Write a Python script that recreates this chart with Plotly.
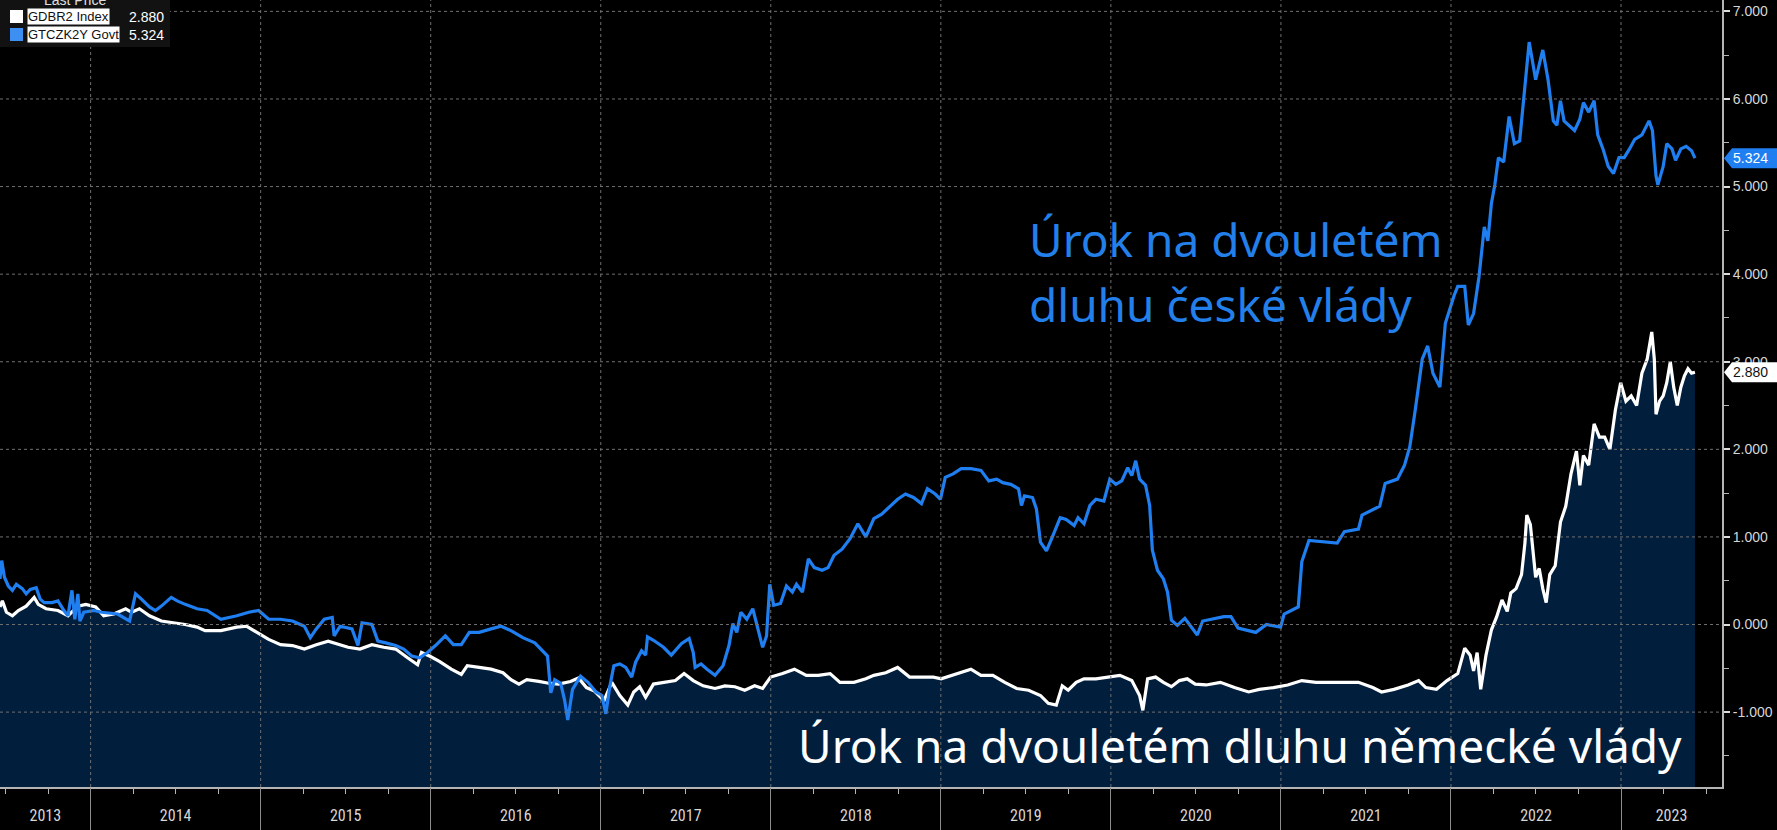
import plotly.graph_objects as go

# ---------------- data (decimal year, yield %) ----------------
years = [2013, 2014, 2015, 2016, 2017, 2018, 2019, 2020, 2021, 2022, 2023]
year_labels = [str(y) for y in years]
x_start, x_end = 2013.467, 2023.594
y_ticks = [-1, 0, 1, 2, 3, 4, 5, 6, 7]
y_min, y_max = -1.855, 7.13

series_names = ["GDBR2 Index", "GTCZK2Y Govt"]

cz_points = [
    (2013.467, 0.52), (2013.477, 0.73), (2013.493, 0.54), (2013.516, 0.44), (2013.540, 0.39),
    (2013.563, 0.46), (2013.598, 0.41), (2013.621, 0.35), (2013.645, 0.40), (2013.680, 0.42),
    (2013.703, 0.29), (2013.727, 0.25), (2013.773, 0.25), (2013.808, 0.27), (2013.843, 0.16),
    (2013.867, 0.10), (2013.890, 0.39), (2013.907, 0.06), (2013.925, 0.35), (2013.937, 0.04),
    (2013.960, 0.14), (2014.019, 0.16), (2014.065, 0.14), (2014.159, 0.12), (2014.229, 0.04),
    (2014.264, 0.35), (2014.299, 0.29), (2014.346, 0.20), (2014.381, 0.16), (2014.416, 0.21),
    (2014.474, 0.31), (2014.509, 0.27), (2014.556, 0.23), (2014.626, 0.18), (2014.685, 0.16),
    (2014.766, 0.06), (2014.860, 0.10), (2014.930, 0.14), (2014.988, 0.16), (2015.047, 0.06),
    (2015.117, 0.06), (2015.187, 0.04), (2015.257, -0.02), (2015.292, -0.15), (2015.327, -0.05),
    (2015.374, 0.06), (2015.421, 0.08), (2015.432, -0.13), (2015.467, -0.02), (2015.537, -0.05),
    (2015.572, -0.24), (2015.596, 0.02), (2015.654, 0.00), (2015.689, -0.19), (2015.736, -0.21),
    (2015.794, -0.24), (2015.841, -0.28), (2015.888, -0.36), (2015.935, -0.38), (2015.981, -0.32),
    (2016.028, -0.24), (2016.086, -0.13), (2016.133, -0.23), (2016.180, -0.23), (2016.227, -0.09),
    (2016.285, -0.09), (2016.355, -0.05), (2016.414, -0.02), (2016.472, -0.07), (2016.542, -0.15),
    (2016.612, -0.21), (2016.659, -0.30), (2016.687, -0.36), (2016.706, -0.78), (2016.729, -0.63),
    (2016.764, -0.67), (2016.787, -0.86), (2016.806, -1.09), (2016.834, -0.74), (2016.881, -0.59),
    (2016.925, -0.66), (2016.972, -0.77), (2017.007, -0.81), (2017.030, -1.02), (2017.054, -0.70),
    (2017.077, -0.47), (2017.112, -0.45), (2017.147, -0.49), (2017.182, -0.60), (2017.205, -0.43),
    (2017.240, -0.30), (2017.264, -0.35), (2017.275, -0.14), (2017.310, -0.18), (2017.369, -0.26),
    (2017.415, -0.35), (2017.474, -0.22), (2017.520, -0.16), (2017.544, -0.32), (2017.555, -0.49),
    (2017.590, -0.45), (2017.625, -0.51), (2017.672, -0.58), (2017.719, -0.47), (2017.754, -0.24),
    (2017.777, 0.01), (2017.800, -0.09), (2017.824, 0.14), (2017.859, 0.06), (2017.894, 0.18),
    (2017.929, -0.09), (2017.952, -0.26), (2017.975, -0.13), (2017.994, 0.46), (2018.017, 0.22),
    (2018.057, 0.24), (2018.092, 0.44), (2018.127, 0.37), (2018.151, 0.46), (2018.186, 0.37),
    (2018.221, 0.75), (2018.256, 0.65), (2018.302, 0.62), (2018.337, 0.65), (2018.372, 0.79),
    (2018.419, 0.86), (2018.466, 0.98), (2018.512, 1.15), (2018.559, 1.00), (2018.606, 1.21),
    (2018.652, 1.26), (2018.699, 1.34), (2018.746, 1.43), (2018.792, 1.49), (2018.839, 1.45),
    (2018.886, 1.38), (2018.921, 1.55), (2018.967, 1.49), (2018.998, 1.43), (2019.026, 1.68),
    (2019.072, 1.72), (2019.119, 1.78), (2019.177, 1.78), (2019.236, 1.76), (2019.282, 1.64),
    (2019.329, 1.66), (2019.364, 1.62), (2019.411, 1.60), (2019.457, 1.55), (2019.474, 1.36),
    (2019.492, 1.47), (2019.539, 1.45), (2019.562, 1.32), (2019.586, 0.94), (2019.621, 0.84),
    (2019.656, 1.00), (2019.702, 1.22), (2019.737, 1.20), (2019.784, 1.13), (2019.807, 1.22),
    (2019.842, 1.15), (2019.877, 1.36), (2019.912, 1.43), (2019.959, 1.41), (2019.994, 1.66),
    (2020.029, 1.60), (2020.064, 1.64), (2020.099, 1.79), (2020.123, 1.70), (2020.146, 1.87),
    (2020.169, 1.66), (2020.204, 1.59), (2020.228, 1.36), (2020.244, 0.85), (2020.274, 0.62),
    (2020.309, 0.52), (2020.333, 0.37), (2020.356, 0.05), (2020.391, -0.01), (2020.435, 0.07),
    (2020.508, -0.12), (2020.540, 0.04), (2020.665, 0.09), (2020.706, 0.09), (2020.748, -0.04),
    (2020.852, -0.09), (2020.915, 0.00), (2020.998, -0.03), (2021.019, 0.12), (2021.102, 0.20),
    (2021.123, 0.72), (2021.165, 0.96), (2021.331, 0.93), (2021.373, 1.06), (2021.456, 1.09),
    (2021.477, 1.25), (2021.581, 1.35), (2021.613, 1.61), (2021.685, 1.66), (2021.727, 1.82),
    (2021.758, 2.03), (2021.790, 2.45), (2021.831, 3.03), (2021.863, 3.18), (2021.894, 2.87),
    (2021.935, 2.71), (2021.967, 3.44), (2022.019, 3.76), (2022.040, 3.86), (2022.081, 3.86),
    (2022.102, 3.42), (2022.133, 3.55), (2022.165, 3.97), (2022.196, 4.54), (2022.217, 4.38),
    (2022.238, 4.81), (2022.258, 5.02), (2022.279, 5.33), (2022.310, 5.28), (2022.342, 5.80),
    (2022.373, 5.49), (2022.404, 5.52), (2022.435, 6.12), (2022.460, 6.65), (2022.498, 6.22),
    (2022.519, 6.38), (2022.540, 6.56), (2022.571, 6.22), (2022.602, 5.75), (2022.623, 5.70),
    (2022.644, 5.98), (2022.665, 5.75), (2022.696, 5.70), (2022.727, 5.64), (2022.758, 5.77),
    (2022.779, 5.96), (2022.810, 5.85), (2022.842, 5.98), (2022.863, 5.59), (2022.894, 5.43),
    (2022.925, 5.23), (2022.956, 5.15), (2022.988, 5.33), (2023.019, 5.33), (2023.050, 5.43),
    (2023.081, 5.54), (2023.123, 5.59), (2023.165, 5.75), (2023.185, 5.64), (2023.206, 5.12),
    (2023.217, 5.02), (2023.248, 5.23), (2023.269, 5.49), (2023.300, 5.43), (2023.321, 5.30),
    (2023.352, 5.43), (2023.383, 5.46), (2023.415, 5.41), (2023.435, 5.324),
]

de_points = [
    (2013.467, 0.20), (2013.481, 0.27), (2013.505, 0.14), (2013.540, 0.10), (2013.575, 0.16),
    (2013.621, 0.21), (2013.668, 0.31), (2013.692, 0.23), (2013.738, 0.18), (2013.808, 0.16),
    (2013.867, 0.10), (2013.925, 0.21), (2013.972, 0.23), (2014.030, 0.20), (2014.077, 0.10),
    (2014.136, 0.12), (2014.206, 0.18), (2014.241, 0.14), (2014.287, 0.18), (2014.346, 0.10),
    (2014.416, 0.04), (2014.486, 0.02), (2014.556, 0.00), (2014.626, -0.03), (2014.673, -0.07),
    (2014.766, -0.07), (2014.860, -0.03), (2014.918, -0.02), (2014.977, -0.09), (2015.047, -0.17),
    (2015.117, -0.23), (2015.187, -0.24), (2015.257, -0.28), (2015.327, -0.23), (2015.397, -0.19),
    (2015.467, -0.23), (2015.514, -0.26), (2015.584, -0.28), (2015.654, -0.23), (2015.724, -0.26),
    (2015.794, -0.28), (2015.864, -0.38), (2015.923, -0.46), (2015.946, -0.32), (2015.993, -0.36),
    (2016.051, -0.42), (2016.121, -0.51), (2016.180, -0.57), (2016.215, -0.47), (2016.285, -0.49),
    (2016.355, -0.51), (2016.425, -0.55), (2016.472, -0.63), (2016.519, -0.68), (2016.565, -0.63),
    (2016.636, -0.65), (2016.694, -0.67), (2016.752, -0.68), (2016.822, -0.65), (2016.869, -0.61),
    (2016.916, -0.72), (2016.963, -0.76), (2017.019, -0.87), (2017.065, -0.66), (2017.112, -0.81),
    (2017.159, -0.92), (2017.194, -0.77), (2017.229, -0.71), (2017.264, -0.83), (2017.310, -0.68),
    (2017.369, -0.66), (2017.439, -0.64), (2017.490, -0.56), (2017.544, -0.64), (2017.602, -0.70),
    (2017.672, -0.73), (2017.730, -0.70), (2017.789, -0.71), (2017.847, -0.75), (2017.905, -0.70),
    (2017.952, -0.73), (2017.999, -0.60), (2018.069, -0.56), (2018.139, -0.51), (2018.209, -0.58),
    (2018.279, -0.58), (2018.349, -0.56), (2018.407, -0.66), (2018.489, -0.66), (2018.559, -0.62),
    (2018.606, -0.58), (2018.676, -0.55), (2018.746, -0.49), (2018.816, -0.60), (2018.886, -0.60),
    (2018.956, -0.60), (2019.002, -0.62), (2019.096, -0.56), (2019.177, -0.51), (2019.236, -0.58),
    (2019.306, -0.58), (2019.376, -0.66), (2019.446, -0.73), (2019.516, -0.75), (2019.586, -0.81),
    (2019.632, -0.90), (2019.679, -0.92), (2019.714, -0.70), (2019.749, -0.75), (2019.796, -0.66),
    (2019.842, -0.62), (2019.912, -0.62), (2019.982, -0.60), (2020.053, -0.58), (2020.123, -0.64),
    (2020.169, -0.81), (2020.188, -0.98), (2020.216, -0.62), (2020.263, -0.60), (2020.309, -0.66),
    (2020.356, -0.71), (2020.403, -0.64), (2020.449, -0.62), (2020.496, -0.68), (2020.560, -0.69),
    (2020.644, -0.66), (2020.727, -0.72), (2020.810, -0.77), (2020.873, -0.74), (2020.956, -0.72),
    (2021.040, -0.69), (2021.123, -0.64), (2021.206, -0.66), (2021.290, -0.66), (2021.373, -0.66),
    (2021.456, -0.66), (2021.540, -0.72), (2021.592, -0.77), (2021.665, -0.74), (2021.748, -0.69),
    (2021.810, -0.64), (2021.852, -0.72), (2021.915, -0.74), (2021.977, -0.64), (2022.040, -0.56),
    (2022.081, -0.27), (2022.113, -0.35), (2022.133, -0.53), (2022.154, -0.32), (2022.175, -0.74),
    (2022.206, -0.35), (2022.238, -0.06), (2022.269, 0.09), (2022.300, 0.28), (2022.331, 0.15),
    (2022.352, 0.36), (2022.383, 0.41), (2022.415, 0.57), (2022.435, 0.93), (2022.446, 1.25),
    (2022.467, 1.14), (2022.498, 0.54), (2022.519, 0.64), (2022.540, 0.41), (2022.560, 0.25),
    (2022.581, 0.57), (2022.613, 0.67), (2022.644, 1.17), (2022.675, 1.35), (2022.706, 1.72),
    (2022.738, 1.98), (2022.758, 1.59), (2022.779, 1.93), (2022.810, 1.82), (2022.842, 2.29),
    (2022.873, 2.14), (2022.904, 2.14), (2022.935, 2.00), (2022.967, 2.45), (2022.998, 2.76),
    (2023.029, 2.55), (2023.060, 2.61), (2023.092, 2.50), (2023.123, 2.87), (2023.154, 3.03),
    (2023.181, 3.34), (2023.196, 3.03), (2023.206, 2.40), (2023.227, 2.55), (2023.248, 2.61),
    (2023.269, 2.76), (2023.290, 3.00), (2023.310, 2.71), (2023.331, 2.50), (2023.352, 2.71),
    (2023.373, 2.84), (2023.394, 2.92), (2023.415, 2.87), (2023.435, 2.880),
]

cz_x = [p[0] for p in cz_points]
cz_y = [p[1] for p in cz_points]
de_x = [p[0] for p in de_points]
de_y = [p[1] for p in de_points]

label_cz = ["Úrok na dvouletém", "dluhu české vlády"]
label_de = "Úrok na dvouletém dluhu německé vlády"

# ---------------- styles ----------------
BLUE = "#1f7ef0"
BLUE_TXT = "#2380ea"
NAVY = "#021e3d"
GRID = "#707070"
AXIS = "#b4b4b4"
TXT = "#d6d6d6"
NARROW = "Liberation Sans Narrow, Roboto Condensed, Arial Narrow, Liberation Sans, sans-serif"
SANS = "Liberation Sans, Arial, sans-serif"
BIG = "Noto Sans, Open Sans, sans-serif"

fig = go.Figure()

# baseline for the area under the German line
fig.add_trace(go.Scatter(x=[de_x[0], de_x[-1]], y=[y_min, y_min], mode="lines",
                         line=dict(width=0, color=NAVY), hoverinfo="skip", showlegend=False))
fig.add_trace(go.Scatter(x=de_x, y=de_y, mode="lines", name=series_names[0],
                         line=dict(color="white", width=3.2), fill="tonexty",
                         fillcolor=NAVY, showlegend=False))
fig.add_trace(go.Scatter(x=cz_x, y=cz_y, mode="lines", name=series_names[1],
                         line=dict(color=BLUE, width=3.2), showlegend=False))
# invisible trace to activate the separator axis
fig.add_trace(go.Scatter(x=[years[1]], y=[0], xaxis="x2", mode="markers",
                         marker=dict(opacity=0), hoverinfo="skip", showlegend=False))

bounds = years[1:]
mids = []
for i, y in enumerate(years):
    lo = max(y, x_start)
    hi = min(y + 1, x_end)
    mids.append((lo + hi) / 2)

shapes = []
for v in y_ticks:
    shapes.append(dict(type="line", xref="x domain", x0=0, x1=1, yref="y", y0=v, y1=v,
                       line=dict(color=GRID, width=1, dash="dot"), layer="above"))
for b in bounds:
    shapes.append(dict(type="line", xref="x", x0=b, x1=b, yref="y domain", y0=0, y1=1,
                       line=dict(color=GRID, width=1, dash="dot"), layer="above"))

# legend panel
shapes.append(dict(type="rect", xref="paper", yref="paper", xsizemode="pixel", ysizemode="pixel",
                   xanchor=0, yanchor=1, x0=0, x1=170, y0=0, y1=-47,
                   fillcolor="#121212", line=dict(width=0), layer="above"))
shapes.append(dict(type="rect", xref="paper", yref="paper", xsizemode="pixel", ysizemode="pixel",
                   xanchor=0, yanchor=1, x0=10, x1=23, y0=-10, y1=-23,
                   fillcolor="white", line=dict(width=0), layer="above"))
shapes.append(dict(type="rect", xref="paper", yref="paper", xsizemode="pixel", ysizemode="pixel",
                   xanchor=0, yanchor=1, x0=10, x1=23, y0=-28, y1=-41,
                   fillcolor="#3d8ff2", line=dict(width=0), layer="above"))

# last-value tags on the right axis
tag_path = "M 2 0 L 10 10 L 60 10 L 60 -10 L 10 -10 Z"
for yv, col in [(cz_y[-1], BLUE), (de_y[-1], "white")]:
    shapes.append(dict(type="path", xref="paper", yref="y", xsizemode="pixel", ysizemode="pixel",
                       xanchor=1, yanchor=yv, path=tag_path, fillcolor=col,
                       line=dict(width=0), layer="above"))

annotations = [
    dict(xref="paper", yref="y", x=1, y=cz_y[-1], xanchor="left", yanchor="middle", xshift=9,
         text=f"{cz_y[-1]:.3f}", showarrow=False, font=dict(family=SANS, size=14, color="white")),
    dict(xref="paper", yref="y", x=1, y=de_y[-1], xanchor="left", yanchor="middle", xshift=9,
         text=f"{de_y[-1]:.3f}", showarrow=False, font=dict(family=SANS, size=14, color="#111111")),
    # legend texts
    dict(xref="paper", yref="paper", x=0, y=1, xanchor="center", yanchor="middle", xshift=75, yshift=0,
         text="Last Price", showarrow=False, font=dict(family=SANS, size=14, color="#e0e0e0")),
    dict(xref="paper", yref="paper", x=0, y=1, xanchor="left", yanchor="middle", xshift=27, yshift=-16.5,
         text=series_names[0], showarrow=False, bgcolor="white", borderpad=0,
         font=dict(family=SANS, size=13, color="#111111")),
    dict(xref="paper", yref="paper", x=0, y=1, xanchor="left", yanchor="middle", xshift=127, yshift=-16.5,
         text=f"{de_y[-1]:.3f}", showarrow=False, font=dict(family=SANS, size=14, color="white")),
    dict(xref="paper", yref="paper", x=0, y=1, xanchor="left", yanchor="middle", xshift=27, yshift=-34.5,
         text=series_names[1], showarrow=False, bgcolor="white", borderpad=0,
         font=dict(family=SANS, size=13, color="#111111")),
    dict(xref="paper", yref="paper", x=0, y=1, xanchor="left", yanchor="middle", xshift=127, yshift=-34.5,
         text=f"{cz_y[-1]:.3f}", showarrow=False, font=dict(family=SANS, size=14, color="white")),
    # chart labels
    dict(xref="x", yref="y", x=2019.507, y=4.40, xanchor="left", yanchor="middle",
         text=label_cz[0], showarrow=False, font=dict(family=BIG, size=46, color=BLUE_TXT)),
    dict(xref="x", yref="y", x=2019.507, y=3.66, xanchor="left", yanchor="middle",
         text=label_cz[1], showarrow=False, font=dict(family=BIG, size=46, color=BLUE_TXT)),
    dict(xref="x", yref="y", x=2018.149, y=-1.38, xanchor="left", yanchor="middle",
         text=label_de, showarrow=False, font=dict(family=BIG, size=46, color="white")),
]

fig.update_layout(
    width=1777, height=830, autosize=False,
    paper_bgcolor="black", plot_bgcolor="black",
    margin=dict(l=0, r=55, t=0, b=43),
    showlegend=False,
    xaxis=dict(range=[x_start, x_end], tickmode="array", tickvals=mids, ticktext=year_labels,
               ticks="outside", ticklen=13, tickcolor="rgba(0,0,0,0)",
               tickfont=dict(family=NARROW, size=16, color=TXT),
               showgrid=False, zeroline=False, showline=True, linecolor=AXIS, linewidth=2,
               minor=dict(tickmode="linear", tick0=2014, dtick=0.25, ticks="outside",
                          ticklen=5, tickcolor=AXIS, tickwidth=1, showgrid=False)),
    xaxis2=dict(range=[x_start, x_end], overlaying="x", anchor="y", side="bottom",
                tickmode="array", tickvals=bounds, ticks="outside", ticklen=43,
                tickcolor="#8c8c8c", tickwidth=1, showticklabels=False,
                showgrid=False, zeroline=False, showline=False),
    yaxis=dict(range=[y_min, y_max], side="right", tickmode="array", tickvals=y_ticks,
               ticktext=[f"{v:.3f}" for v in y_ticks], ticks="outside", ticklen=6, tickwidth=2,
               tickcolor="#dcdcdc", tickfont=dict(family=SANS, size=14, color=TXT),
               showgrid=False, zeroline=False, showline=True, linecolor=AXIS, linewidth=2,
               minor=dict(tickmode="linear", tick0=0.5, dtick=1, ticks="outside",
                          ticklen=5, tickcolor=AXIS, tickwidth=1, showgrid=False)),
    shapes=shapes,
    annotations=annotations,
)

fig.write_html("out.html", config={"displayModeBar": False},
               post_script="document.body.style.margin='0';document.body.style.overflow='hidden';")
